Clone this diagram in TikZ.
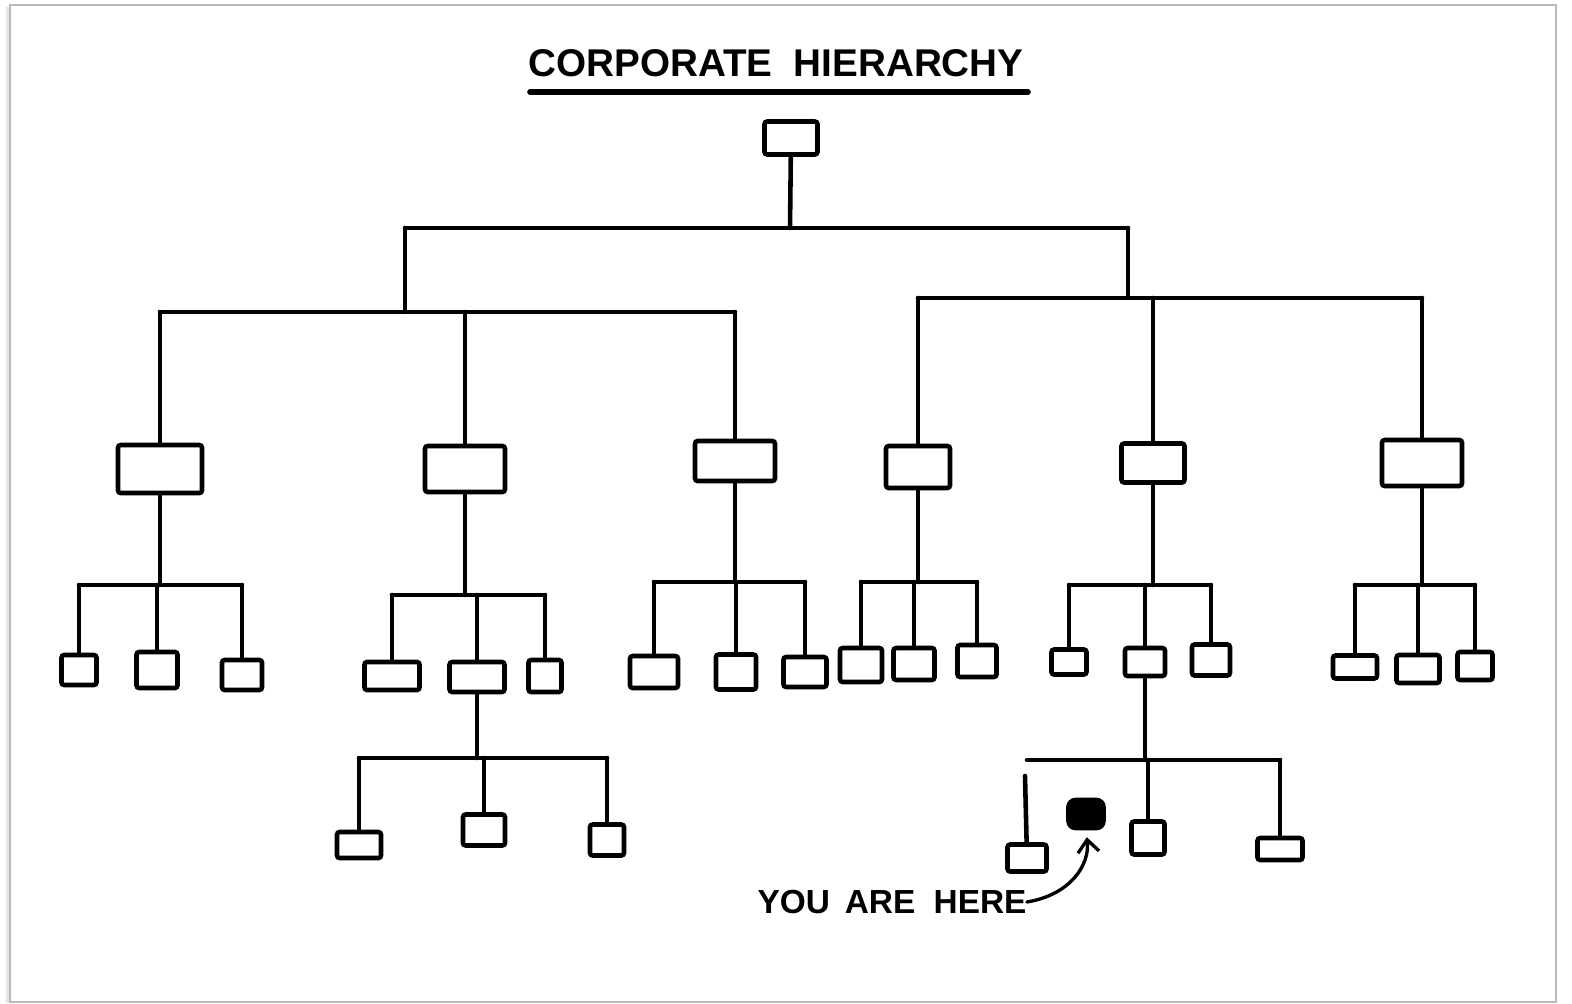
\documentclass[tikz,border=0pt]{standalone}
\usepackage{fontspec}
\setmainfont{Liberation Sans}
\usetikzlibrary{positioning, arrows.meta}
\tikzset{
  box/.style 2 args={draw, line width=2.6pt, rounded corners=1.5pt, inner sep=0pt,
    minimum width=#1*0.02cm, minimum height=#2*0.02cm},
  link/.style={line width=2.6pt, line cap=round, line join=round},
  hand/.style={font=\fontsize{#1}{#1}\selectfont\bfseries, inner sep=0pt},
}

\begin{document}
\begin{tikzpicture}[x=0.02cm, y=-0.02cm, >=Stealth]
  \useasboundingbox (0,0) rectangle (1572,1004);
  % sheet
  \fill[gray!20] (6,7) rectangle (12,1003);
  \draw[gray!55, line width=0.8pt, fill=white] (10,5) rectangle (1556,1002);

  % title
  \node[hand=22] (title) at (776,63) {CORPORATE\hspace{0.55em}HIERARCHY};
  \coordinate (ulA) at (530,92); \coordinate (ulB) at (1028,92);
  \draw[link, line width=3.2pt] (ulA) -- (ulB);

  % top and second level
  \node[box={53}{33}] (ceo) at (791,138) {};
  \node[box={84}{48}] (vpA) at (160,469) {};
  \node[box={80}{46}] (vpB) at (465,469) {};
  \node[box={80}{40}] (vpC) at (735,461) {};
  \node[box={64}{42}] (vpD) at (918,467) {};
  \node[box={63}{39}] (vpE) at (1153,463) {};
  \node[box={80}{46}] (vpF) at (1422,463) {};

  \coordinate (top) at (790,228);
  \coordinate (jL) at (405,228); \coordinate (jR) at (1128,228);
  \coordinate (rowL) at (0,312); \coordinate (rowR) at (0,298);
  \draw[link] (ceo) -- (top);
  \draw[link] (jL) -- (jR);
  \draw[link] (jL) -- (jL |- rowL);
  \draw[link] (jR) -- (jR |- rowR);
  \draw[link] (vpA |- rowL) -- (vpC |- rowL);
  \draw[link] (vpD |- rowR) -- (vpF |- rowR);
  \foreach \v in {vpA,vpB,vpC} \draw[link] (\v |- rowL) -- (\v);
  \foreach \v in {vpD,vpE,vpF} \draw[link] (\v |- rowR) -- (\v);

  % third level
  \node[box={35}{30}] (a1) at (79,670) {};
  \node[box={41}{36}] (a2) at (157,670) {};
  \node[box={40}{30}] (a3) at (242,675) {};
  \node[box={55}{28}] (b1) at (392,676) {};
  \node[box={55}{30}] (b2) at (477,677) {};
  \node[box={33}{32}] (b3) at (545,676) {};
  \node[box={48}{32}] (c1) at (654,672) {};
  \node[box={40}{35}] (c2) at (736,672) {};
  \node[box={43}{30}] (c3) at (805,672) {};
  \node[box={42}{34}] (d1) at (861,665) {};
  \node[box={41}{32}] (d2) at (914,664) {};
  \node[box={39}{32}] (d3) at (977,661) {};
  \node[box={35}{25}] (e1) at (1069,662) {};
  \node[box={40}{28}] (e2) at (1145,662) {};
  \node[box={38}{31}] (e3) at (1211,660) {};
  \node[box={44}{23}] (f1) at (1355,667) {};
  \node[box={43}{28}] (f2) at (1418,669) {};
  \node[box={35}{28}] (f3) at (1475,666) {};

  \foreach \p/\r/\x in {vpA/585/a, vpB/595/b, vpC/582/c, vpD/582/d, vpE/585/e, vpF/585/f} {
    \coordinate (row\x) at (0,\r);
    \draw[link] (\p) -- (\p |- row\x);
    \draw[link] (\x1 |- row\x) -- (\x3 |- row\x);
    \foreach \k in {1,2,3} \draw[link] (\x\k |- row\x) -- (\x\k);
  }

  % fourth level, left
  \node[box={44}{26}] (bb1) at (359,845) {};
  \node[box={42}{31}] (bb2) at (484,830) {};
  \node[box={34}{31}] (bb3) at (607,840) {};
  \coordinate (rowbb) at (0,758);
  \draw[link] (b2) -- (b2 |- rowbb);
  \draw[link] (bb1 |- rowbb) -- (bb3 |- rowbb);
  \foreach \k in {1,2,3} \draw[link] (bb\k |- rowbb) -- (bb\k);

  % fourth level, right
  \node[box={39}{27}] (ee1) at (1027,858) {};
  \node[box={35}{28}, fill=black, rounded corners=4pt] (me) at (1086,814) {};
  \node[box={33}{33}] (ee3) at (1148,838) {};
  \node[box={45}{22}] (ee4) at (1280,849) {};
  \coordinate (rowee) at (0,760);
  \coordinate (gap) at (1025,776);
  \draw[link] (e2) -- (e2 |- rowee);
  \draw[link] (ee1 |- rowee) -- (ee4 |- rowee);
  \draw[link] (ee3 |- rowee) -- (ee3);
  \draw[link] (ee4 |- rowee) -- (ee4);
  \draw[link] (gap) -- (ee1);

  % label
  \node[hand=19] (here) at (892,902) {YOU\hspace{0.45em}ARE\hspace{0.55em}HERE};
  \draw[link, line width=1.9pt, -{Straight Barb[length=7pt, width=12pt]}, shorten >=0.14cm]
    (here.east) .. controls (1070,895) and (1090,865) .. (me.south);
\end{tikzpicture}
\end{document}
